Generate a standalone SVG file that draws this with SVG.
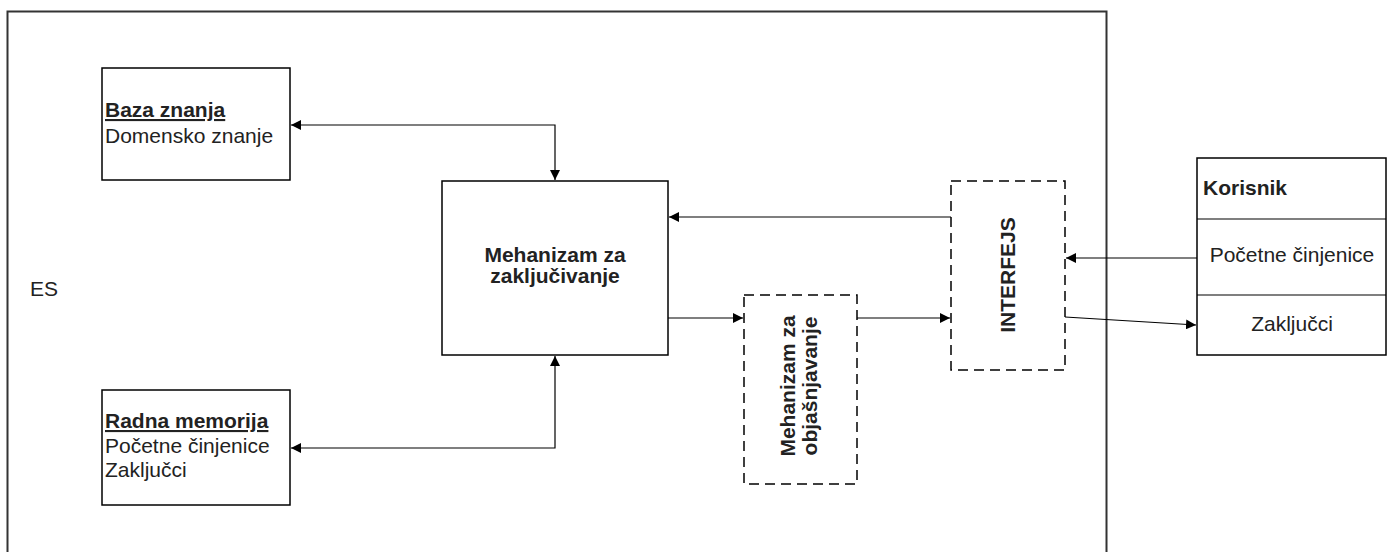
<svg xmlns="http://www.w3.org/2000/svg" width="1388" height="552" viewBox="0 0 1388 552">
<style>
.box{fill:#fff;stroke:#000;stroke-width:1.5}
.dash{fill:#fff;stroke:#000;stroke-width:1.5;stroke-dasharray:10,6}
.t{font-family:"Liberation Sans",Arial,sans-serif;font-size:21px;fill:#222}
.b{font-weight:bold}
.c{stroke:#000;stroke-width:1.2;fill:none}
</style>
<defs>
<marker id="ah" viewBox="0 0 10 10" refX="10" refY="5" markerWidth="10" markerHeight="10" markerUnits="userSpaceOnUse" orient="auto-start-reverse">
<path d="M0,0 L10,5 L0,10 z" fill="#000"/>
</marker>
</defs>
<g id="es">
<rect x="7.5" y="11.5" width="1099" height="560" fill="none" stroke="#333" stroke-width="2"/>
<text x="30" y="296" class="t">ES</text>
</g>
<g id="baza">
<rect x="102" y="68" width="188" height="112" class="box"/>
<text x="105" y="117" class="t b" text-decoration="underline">Baza znanja</text>
<text x="105" y="143" class="t">Domensko znanje</text>
</g>
<g id="radna">
<rect x="102" y="390" width="188" height="115" class="box"/>
<text x="105" y="428" class="t b" text-decoration="underline">Radna memorija</text>
<text x="105" y="453" class="t">Početne činjenice</text>
<text x="105" y="477" class="t">Zaključci</text>
</g>
<g id="mehanizam">
<rect x="442" y="181" width="226" height="174" class="box"/>
<text x="555" y="262" class="t b" text-anchor="middle">Mehanizam za</text>
<text x="555" y="283" class="t b" text-anchor="middle">zaključivanje</text>
</g>
<g id="objasnjavanje">
<rect x="744" y="295" width="113" height="189" class="dash"/>
<text transform="translate(800,386) rotate(-90)" class="t b" text-anchor="middle"><tspan x="0" y="-5">Mehanizam za</tspan><tspan x="0" y="17">objašnjavanje</tspan></text>
</g>
<g id="interfejs">
<rect x="951" y="181" width="114" height="189" class="dash"/>
<text transform="translate(1015,275) rotate(-90)" class="t b" text-anchor="middle">INTERFEJS</text>
</g>
<g id="korisnik">
<rect x="1197" y="158" width="189" height="197" class="box"/>
<line x1="1197" y1="219" x2="1386" y2="219" class="c" stroke-width="1.5"/>
<line x1="1197" y1="295" x2="1386" y2="295" class="c" stroke-width="1.5"/>
<text x="1203" y="195" class="t b">Korisnik</text>
<text x="1292" y="262" class="t" text-anchor="middle">Početne činjenice</text>
<text x="1292" y="331" class="t" text-anchor="middle">Zaključci</text>
</g>
<g id="connectors">
<polyline points="291,125 555,125 555,180" class="c" marker-start="url(#ah)" marker-end="url(#ah)"/>
<polyline points="291,448 555,448 555,356" class="c" marker-start="url(#ah)" marker-end="url(#ah)"/>
<line x1="951" y1="217" x2="669" y2="217" class="c" marker-end="url(#ah)"/>
<line x1="668" y1="318" x2="743" y2="318" class="c" marker-end="url(#ah)"/>
<line x1="857" y1="318" x2="950" y2="318" class="c" marker-end="url(#ah)"/>
<line x1="1197" y1="258" x2="1066" y2="258" class="c" marker-end="url(#ah)"/>
<polyline points="1065,317 1196,325" class="c" marker-end="url(#ah)"/>
</g>
</svg>
